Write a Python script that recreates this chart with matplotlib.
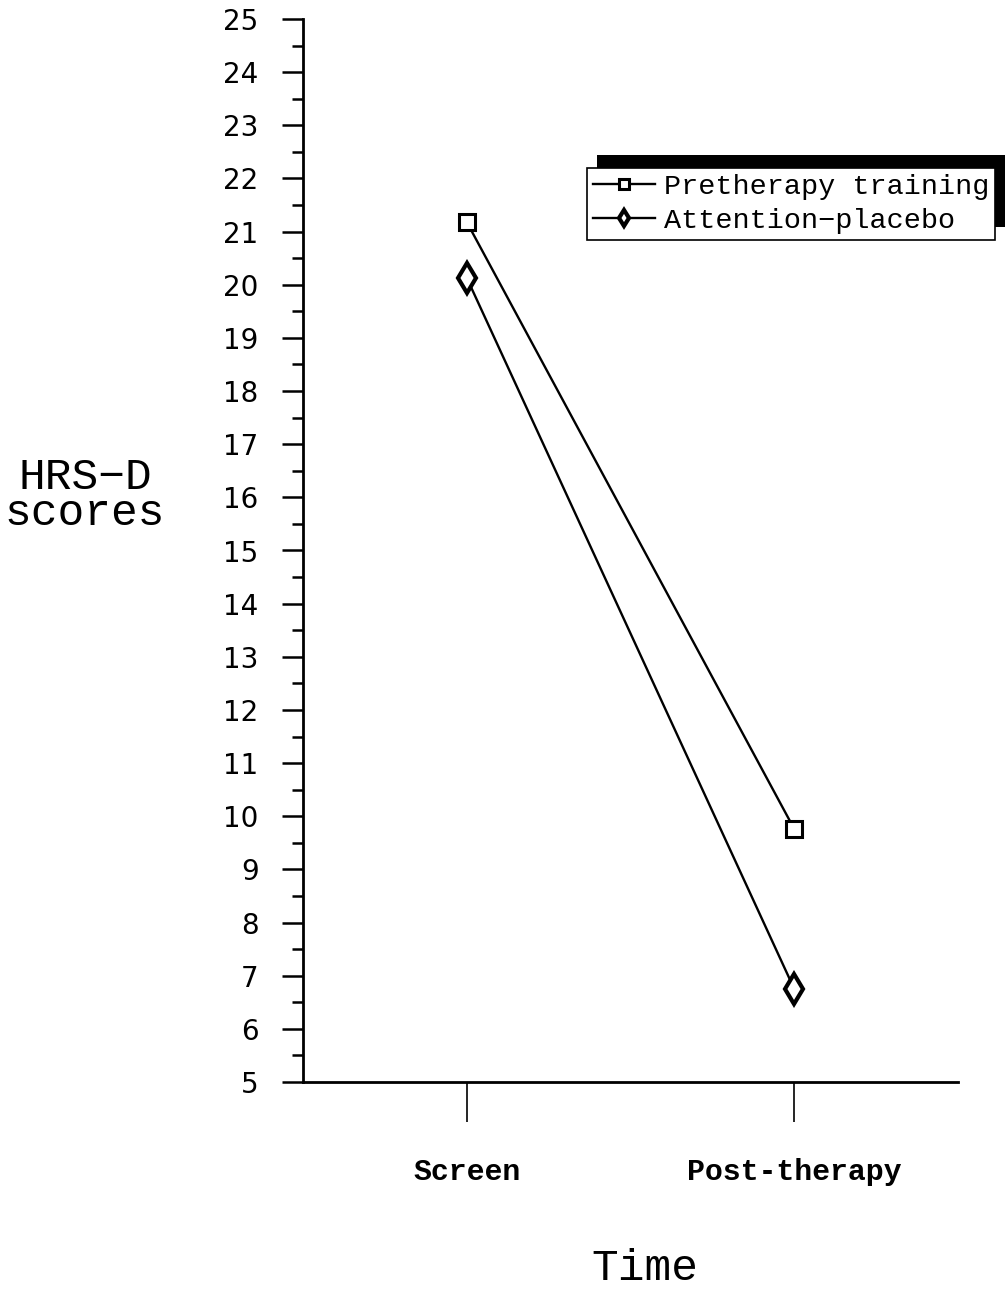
import matplotlib
matplotlib.use("Agg")
import matplotlib.pyplot as plt
from matplotlib.patches import Rectangle
from matplotlib.ticker import MultipleLocator

categories = ["Screen", "Post-therapy"]
pretherapy = [21.18, 9.76]
placebo = [20.13, 6.75]
yticks = list(range(5, 26))

fig = plt.figure(figsize=(10.06, 12.89), dpi=100)
ax = fig.add_axes([303/1006, 1 - 1082/1289, 655/1006, 1063/1289])

x = [1, 2]
ax.plot(x, pretherapy, color="black", lw=1.7, marker="s", ms=12,
        mfc="white", mec="black", mew=2.2, label="Pretherapy training")
ax.plot(x, placebo, color="black", lw=1.7, marker="d", ms=15,
        mfc="white", mec="black", mew=3, label="Attention\u2212placebo")

ax.set_xlim(0.5, 2.5)
ax.set_ylim(5, 25)
ax.set_xticks(x)
ax.set_xticklabels(categories, family="Liberation Mono", weight="bold", fontsize=21.5)
ax.set_yticks(yticks)
ax.set_yticklabels([str(v) for v in yticks], family="DejaVu Sans", fontsize=20)
ax.yaxis.set_minor_locator(MultipleLocator(0.5))

for s in ["top", "right"]:
    ax.spines[s].set_visible(False)
ax.spines["left"].set_linewidth(2)
ax.spines["bottom"].set_linewidth(2)
ax.tick_params(axis="y", which="major", direction="out", length=15, width=1.8, pad=17)
ax.tick_params(axis="y", which="minor", direction="out", length=8, width=1.8)
ax.tick_params(axis="x", which="major", direction="out", length=29, width=1.2, pad=26)

ax.set_ylabel("HRS\u2212D\nscores", rotation=0, family="Liberation Mono",
              fontsize=32, linespacing=0.85, ha="center", va="center")
ax.yaxis.set_label_coords(-0.333, 0.552)
ax.set_xlabel("Time", family="Liberation Mono", fontsize=32, va="center")
ax.xaxis.set_label_coords(0.522, -0.175)

leg = ax.legend(loc="upper left", bbox_to_anchor=((587-303)/655, (1082-168)/1063),
                prop={"family": "Liberation Mono", "size": 20.5},
                frameon=True, fancybox=False, framealpha=1, edgecolor="black",
                handlelength=2.2, handletextpad=0.3, borderpad=0.2,
                labelspacing=0.3, markerscale=0.55, borderaxespad=0)
leg.get_frame().set_linewidth(1.2)
leg.set_zorder(5)

fig.canvas.draw()
bb = leg.get_window_extent()
shadow = Rectangle((bb.x0 + 10, bb.y0 + 13), bb.width, bb.height,
                   transform=None, facecolor="black", edgecolor="none",
                   zorder=4, clip_on=False)
ax.add_artist(shadow)

fig.savefig("out.png", dpi=100)
